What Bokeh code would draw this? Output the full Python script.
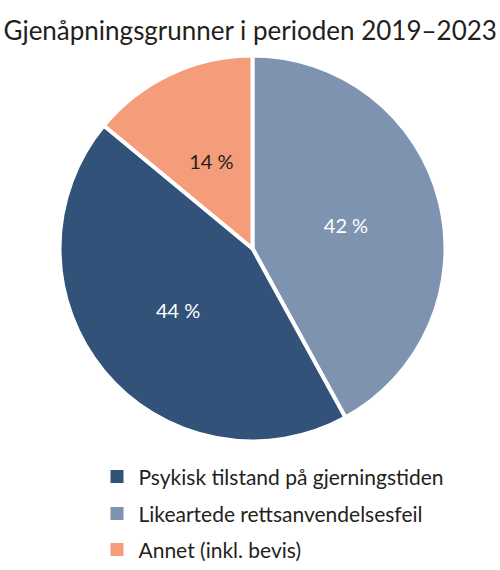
import numpy as np
from bokeh.plotting import figure
from bokeh.models import ColumnDataSource, Range1d
from bokeh.core.properties import value
from bokeh.embed import file_html
from bokeh.resources import INLINE

title = "Gjenåpningsgrunner i perioden 2019–2023"

# slices in drawing order, clockwise from 12 o'clock
slice_names = ["Likeartede rettsanvendelsesfeil", "Psykisk tilstand på gjerningstiden", "Annet (inkl. bevis)"]
slice_shares = [42, 44, 14]
slice_colors = ["#7d93b0", "#33527a", "#f59c7b"]
label_colors = ["#ffffff", "#ffffff", "#231f20"]

# legend order
legend_names = ["Psykisk tilstand på gjerningstiden", "Likeartede rettsanvendelsesfeil", "Annet (inkl. bevis)"]
legend_colors = ["#33527a", "#7d93b0", "#f59c7b"]

W, H = 500, 570
FONT = "Lato"
cx, cy, R = 252, 322, 193

shares = np.array(slice_shares, dtype=float)
frac = shares / shares.sum()
cum = np.concatenate([[0], np.cumsum(frac)])
start = np.pi / 2 - 2 * np.pi * cum[:-1]
end = np.pi / 2 - 2 * np.pi * cum[1:]
mid = (start + end) / 2

src = ColumnDataSource(dict(
    name=slice_names, start=start, end=end, color=slice_colors,
    lx=cx + 0.5 * R * np.cos(mid), ly=cy + 0.5 * R * np.sin(mid),
    lab=["%d %%" % s for s in slice_shares], lcol=label_colors,
))

p = figure(width=W, height=H, x_range=Range1d(0, W), y_range=Range1d(0, H),
           output_backend="svg", toolbar_location=None, min_border=0)
p.axis.visible = False
p.grid.visible = False
p.outline_line_color = None
p.background_fill_color = "white"

p.wedge(x=cx, y=cy, radius=R, start_angle="start", end_angle="end", direction="clock",
        fill_color="color", line_color="white", line_width=4, source=src)
p.text(x="lx", y="ly", text="lab", text_color="lcol", text_font=value(FONT),
       text_font_size="20px", text_align="center", text_baseline="middle", source=src)

# title
p.text(x=[3], y=[H - 29], text=[title], text_font=value(FONT), text_font_size="26px",
       text_color="#231f20", text_baseline="alphabetic")

# legend
ly = [94, 57, 21]
p.rect(x=[116.5] * 3, y=ly, width=13, height=13, fill_color=legend_colors, line_color=None)
p.text(x=[138] * 3, y=ly, text=legend_names, text_font=value(FONT), text_font_size="21px",
       text_color="#231f20", text_baseline="middle")

open("out.html", "w").write(file_html(p, INLINE))
